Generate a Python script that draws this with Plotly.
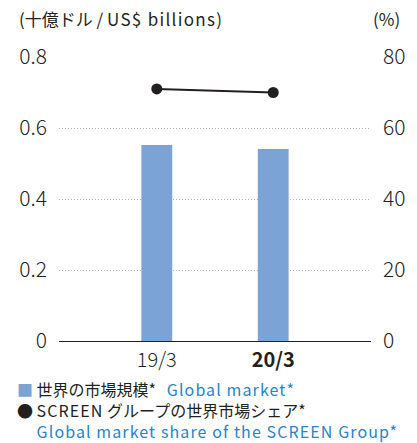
import plotly.graph_objects as go

# Fiscal periods
periods = ["19/3", "20/3"]
period_labels = ["19/3", "<b>20/3</b>"]

# Global market size (US$ billions)
market_size = [0.552, 0.541]

# SCREEN Group global market share (%)
market_share = [71.0, 70.0]

left_ticks = [0, 0.2, 0.4, 0.6, 0.8]
left_tick_text = ["0", "0.2", "0.4", "0.6", "0.8"]
right_ticks = [0, 20, 40, 60, 80]
right_tick_text = ["0", "20", "40", "60", "80"]

BAR = "#7ba3d6"
INK = "#231f20"
BLUE = "#2a83c6"
FONT = "Noto Sans CJK JP"

W, H = 417, 443
L, R, T, B = 59, 41, 57, 102
PW, PH = W - L - R, H - T - B

x_pos = list(range(len(periods)))

fig = go.Figure()
fig.add_trace(go.Bar(
    x=x_pos, y=market_size, width=0.265, marker=dict(color=BAR, line=dict(width=0)),
    yaxis="y", showlegend=False, hoverinfo="skip",
))
fig.add_trace(go.Scatter(
    x=x_pos, y=market_share, mode="lines+markers",
    line=dict(color=INK, width=2), marker=dict(color=INK, size=11),
    yaxis="y2", showlegend=False, hoverinfo="skip",
))

tick_font = dict(family=FONT, size=21, color=INK, weight=300)

fig.update_layout(
    width=W, height=H,
    margin=dict(l=L, r=R, t=T, b=B),
    paper_bgcolor="white", plot_bgcolor="white",
    font=dict(family=FONT, color=INK, size=18),
    xaxis=dict(
        range=[-0.84, 1.84], tickvals=x_pos, ticktext=period_labels,
        showgrid=False, zeroline=False, showline=True, linecolor=INK, linewidth=1,
        ticks="", tickfont=dict(family=FONT, size=20, color=INK, weight=300),
        ticklabelstandoff=1,
    ),
    yaxis=dict(
        range=[0, 0.8], tickvals=left_ticks, ticktext=left_tick_text,
        showgrid=True, gridcolor="#b0b0b0", griddash="1px,2px", gridwidth=1,
        zeroline=False, showline=False, ticks="",
        tickfont=tick_font, ticklabelstandoff=11,
    ),
    yaxis2=dict(
        range=[0, 80], tickvals=right_ticks, ticktext=right_tick_text,
        overlaying="y", side="right", showgrid=False, zeroline=False,
        showline=False, ticks="", tickfont=tick_font,
        ticklabelstandoff=11,
    ),
)


def spaced(s, color=None, ls=1.1):
    style = "letter-spacing:%.1fpx" % ls
    if color:
        style += ";color:" + color
    return "<span style='%s'>%s</span>" % (style, s)


def px_to_paper(px, py):
    return (px - L) / PW, (H - B - py) / PH


# Unit headers
for text, px, anchor in [
    ("(十億ドル / " + spaced("US$ billions)", ls=1.3), 16, "left"),
    ("(%)", 408, "right"),
]:
    x, y = px_to_paper(px, 18)
    fig.add_annotation(
        text=text, x=x, y=y, xref="paper", yref="paper", xanchor=anchor, yanchor="middle",
        showarrow=False, font=dict(family=FONT, color=INK, size=17),
    )

# Legend block
legend_lines = [
    "<span style='color:%s'>■</span> 世界の市場規模*\u00a0\u00a0\u00a0" % BAR + spaced("Global market*", BLUE),
    "● " + spaced("SCREEN") + " グループの世界市場シェア*",
    "<span style='color:rgba(0,0,0,0)'>●</span> " + spaced("Global market share of the SCREEN Group*", BLUE),
]
x, y = px_to_paper(14, 410)
fig.add_annotation(
    text="<br>".join(legend_lines), x=x, y=y, xref="paper", yref="paper",
    xanchor="left", yanchor="middle", align="left", showarrow=False,
    font=dict(family=FONT, color=INK, size=16),
)

fig.write_html("out.html")
